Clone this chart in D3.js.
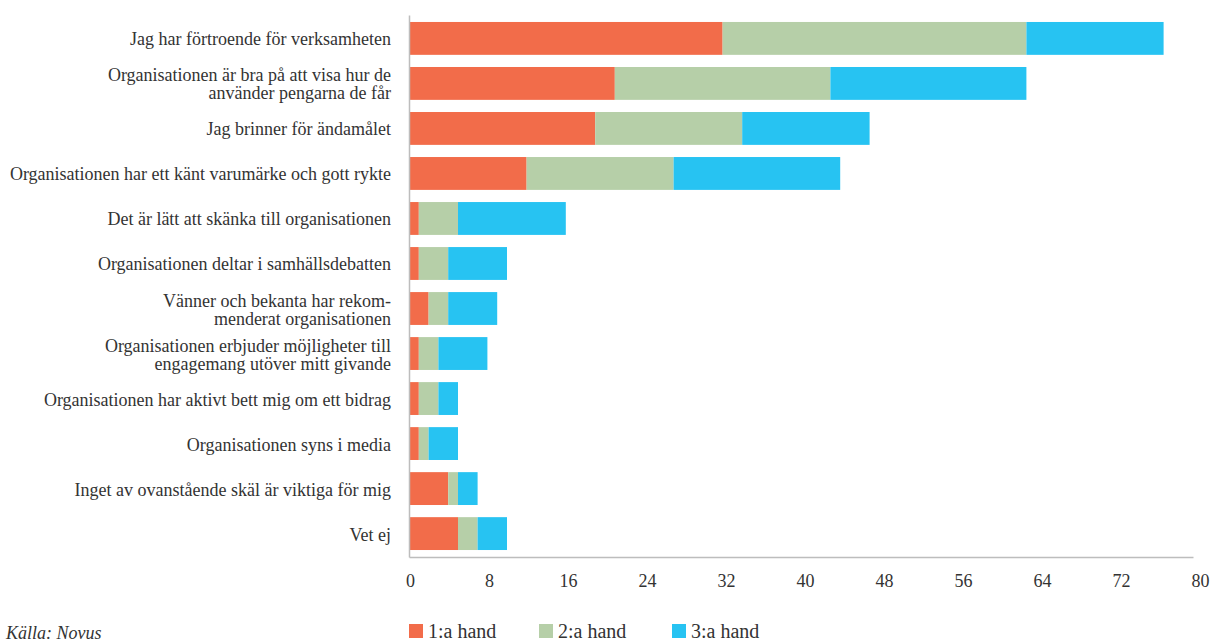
<!DOCTYPE html>
<html>
<head>
<meta charset="utf-8">
<script src="https://cdn.jsdelivr.net/npm/d3@7"></script>
<style>
  html, body { margin: 0; padding: 0; background: #fff; }
  svg { display: block; }
</style>
</head>
<body>
<svg id="chart" width="1211" height="642"></svg>
<script>
// Skäl att ge till en organisation: 1:a, 2:a och 3:e hand (antal svar)
const categories = [
  ["Jag har förtroende för verksamheten"],
  ["Organisationen är bra på att visa hur de", "använder pengarna de får"],
  ["Jag brinner för ändamålet"],
  ["Organisationen har ett känt varumärke och gott rykte"],
  ["Det är lätt att skänka till organisationen"],
  ["Organisationen deltar i samhällsdebatten"],
  ["Vänner och bekanta har rekom-", "menderat organisationen"],
  ["Organisationen erbjuder möjligheter till", "engagemang utöver mitt givande"],
  ["Organisationen har aktivt bett mig om ett bidrag"],
  ["Organisationen syns i media"],
  ["Inget av ovanstående skäl är viktiga för mig"],
  ["Vet ej"]
];
const first  = [32, 21, 19, 12, 1, 1, 2, 1, 1, 1, 4, 5];
const second = [31, 22, 15, 15, 4, 3, 2, 2, 2, 1, 1, 2];
const third  = [14, 20, 13, 17, 11, 6, 5, 5, 2, 3, 2, 3];
const seriesNames = ["1:a hand", "2:a hand", "3:a hand"];
const seriesColors = ["#f26c4a", "#b6cfa8", "#27c3f2"];
const xTicks = [0, 8, 16, 24, 32, 40, 48, 56, 64, 72, 80];
const source = "Källa: Novus";

const FONT = '"Liberation Serif", "Times New Roman", serif';
const INK = "#333";

const svg = d3.select("#chart");
const m = { left: 409, right: 1193, top: 15, bottom: 557 };

const rows = categories.map((c, i) => ({
  key: i, label: c, "1:a hand": first[i], "2:a hand": second[i], "3:a hand": third[i]
}));

const x = d3.scaleLinear().domain([0, 80]).range([m.left, m.right]);
const y = d3.scaleBand()
  .domain(rows.map(d => d.key))
  .range([m.top, m.bottom])
  .paddingInner(0.27)
  .paddingOuter(0.155);
const color = d3.scaleOrdinal().domain(seriesNames).range(seriesColors);

const stacked = d3.stack().keys(seriesNames)(rows);

// stapel-segment
svg.append("g")
  .selectAll("g")
  .data(stacked)
  .join("g")
  .attr("fill", s => color(s.key))
  .selectAll("rect")
  .data(s => s)
  .join("rect")
  .attr("x", d => x(d[0]))
  .attr("y", d => y(d.data.key))
  .attr("width", d => x(d[1]) - x(d[0]))
  .attr("height", y.bandwidth());

// x-axel
const xAxis = svg.append("g")
  .attr("transform", `translate(0,${m.bottom})`)
  .call(d3.axisBottom(x).tickValues(xTicks).tickSize(0).tickPadding(17));
xAxis.select(".domain").attr("stroke", "#bdbdbd").attr("stroke-width", 1.5);
xAxis.selectAll("text")
  .style("font-family", FONT)
  .style("font-size", "18px")
  .attr("fill", INK)
  .attr("dx", (d, i) => i * 0.6 + 1);

// y-axel med radbrutna etiketter
const yAxis = svg.append("g")
  .attr("transform", `translate(${m.left},0)`)
  .call(d3.axisLeft(y).tickSize(0).tickPadding(18).tickFormat(() => ""));
yAxis.select(".domain").attr("stroke", "#bdbdbd").attr("stroke-width", 1.5);
yAxis.selectAll(".tick text").each(function(k) {
  const lines = rows[k].label;
  const t = d3.select(this)
    .style("font-family", FONT)
    .style("font-size", "18px")
    .attr("fill", INK)
    .attr("dy", null)
    .attr("text-anchor", "end");
  const lh = 18;
  const y0 = -((lines.length - 1) * lh) / 2 + 7;
  lines.forEach((ln, j) => {
    t.append("tspan").attr("x", -18).attr("y", y0 + j * lh).text(ln);
  });
});

// teckenförklaring
const legend = svg.append("g").attr("transform", "translate(409,624)");
const legendX = [0, 130, 263];
seriesNames.forEach((n, i) => {
  const g = legend.append("g").attr("transform", `translate(${legendX[i]},0)`);
  g.append("rect").attr("width", 14).attr("height", 14).attr("fill", color(n));
  g.append("text").attr("x", 19).attr("y", 14)
    .style("font-family", FONT).style("font-size", "20px")
    .attr("fill", INK).text(n);
});

// källa
svg.append("text")
  .attr("x", 6).attr("y", 639)
  .style("font-family", FONT)
  .style("font-size", "18px")
  .style("font-style", "italic")
  .attr("fill", INK)
  .text(source);
</script>
</body>
</html>
